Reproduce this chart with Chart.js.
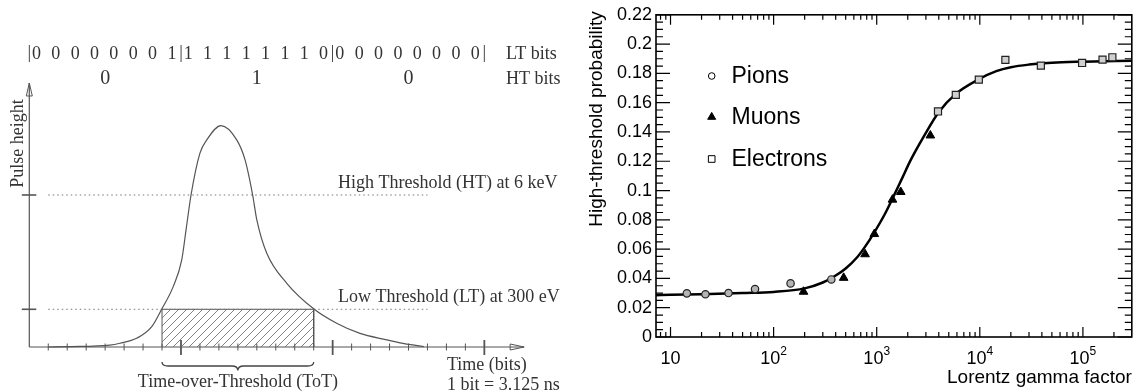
<!DOCTYPE html>
<html>
<head>
<meta charset="utf-8">
<script src="https://cdn.jsdelivr.net/npm/chart.js@4"></script>
<style>
html, body { margin: 0; padding: 0; background: #fff; }
#wrap { position: relative; width: 1138px; height: 392px; }
#pulseChart { position: absolute; left: 0; top: 0; }
#probChart { position: absolute; left: 575px; top: 0; }
</style>
</head>
<body>
<div id="wrap">
  <canvas id="pulseChart" width="575" height="392"></canvas>
  <canvas id="probChart" width="563" height="392"></canvas>
</div>
<script>
// ---------- left panel: pulse and thresholds ----------
var pulseTime   = [1.0, 2.1, 4.24, 4.78, 5.66, 6.46, 6.98, 7.59, 8.04, 8.28, 8.53, 9.0, 9.36, 10.11, 10.94, 11.38, 11.78, 12.0, 12.52, 13.58, 15.03, 16.21, 17.44, 18.85, 19.55, 20.81];
var pulseHeight = [0, 0.01, 0.05, 0.10, 0.23, 0.54, 1.0, 1.6, 2.31, 3.15, 4.03, 5.14, 5.49, 5.87, 5.49, 4.96, 4.03, 3.37, 2.49, 1.69, 1.0, 0.63, 0.36, 0.19, 0.11, 0.01];
var thresholdLevels = [1.0, 4.03];
var thresholdNames  = ['Low Threshold (LT) at 300 eV', 'High Threshold (HT) at 6 keV'];
var thresholdSpan   = [1.0, 21.0];
var totWindow = [7, 15];
var ltBits = [0,0,0,0,0,0,0,1, 1,1,1,1,1,1,1,0, 0,0,0,0,0,0,0,0];
var htBits = [0, 1, 0];
var bitsPerWord = 8;

// ---------- right panel: HT probability vs gamma ----------
var pionGamma = [14.4, 21.8, 36.5, 66, 146, 363];
var pionProb  = [0.0298, 0.0292, 0.0300, 0.0327, 0.0366, 0.0393];
var muonGamma = [195, 478, 771, 948, 1422, 1710, 3313];
var muonProb  = [0.0309, 0.0404, 0.0565, 0.0703, 0.0938, 0.0990, 0.1376];
var electronGamma = [3930, 5850, 9780, 17700, 39100, 98200, 155000, 193000];
var electronProb  = [0.1540, 0.1653, 0.1757, 0.1892, 0.1853, 0.1871, 0.1894, 0.1910];
var fitGamma = [7.2, 10, 20, 50, 100, 200, 300, 400, 500, 656, 760, 948, 1200, 1422, 1766, 2128, 2864, 3990, 5850, 9780, 14450, 20000, 30000, 50000, 100000, 298000];
var fitProb  = [0.0285, 0.0288, 0.0292, 0.0300, 0.0308, 0.0332, 0.0372, 0.0420, 0.0468, 0.0550, 0.0610, 0.0715, 0.0840, 0.0945, 0.1085, 0.1206, 0.1370, 0.1535, 0.1660, 0.1760, 0.1815, 0.1842, 0.1860, 0.1873, 0.1880, 0.1887];
var xTickExp = [1, 2, 3, 4, 5];

function zip(xs, ys) {
  return xs.map(function (x, i) { return { x: x, y: ys[i] }; });
}

var serif = '"Liberation Serif", "Times New Roman", serif';
var sans = '"Liberation Sans", Arial, sans-serif';

// hatch pattern for the ToT box
var pc = document.createElement('canvas');
pc.width = 8; pc.height = 8;
var pg = pc.getContext('2d');
pg.strokeStyle = '#666';
pg.lineWidth = 0.8;
pg.beginPath();
pg.moveTo(0, 8); pg.lineTo(8, 0);
pg.moveTo(-2, 2); pg.lineTo(2, -2);
pg.moveTo(6, 10); pg.lineTo(10, 6);
pg.stroke();
var hatch = pg.createPattern(pc, 'repeat');

var pulseDecor = {
  id: 'pulseDecor',
  beforeDatasetsDraw: function (chart) {
    var c = chart.ctx, xs = chart.scales.x, ys = chart.scales.y;
    var x0 = xs.getPixelForValue(0), y0 = ys.getPixelForValue(0);
    var yTop = ys.getPixelForValue(7.0), xEnd = xs.getPixelForValue(26.1);
    c.save();
    c.strokeStyle = '#555';
    c.lineWidth = 1.2;
    c.beginPath();
    c.moveTo(x0, y0); c.lineTo(x0, yTop);
    c.moveTo(x0, y0); c.lineTo(xEnd, y0);
    c.stroke();
    // arrow heads
    c.lineWidth = 1;
    c.beginPath();
    c.moveTo(x0 - 3, yTop + 13); c.lineTo(x0, yTop); c.lineTo(x0 + 3, yTop + 13); c.closePath();
    c.moveTo(xEnd - 14, y0 - 3); c.lineTo(xEnd, y0); c.lineTo(xEnd - 14, y0 + 3); c.closePath();
    c.stroke();
    // bit ticks on time axis
    for (var t = 1; t <= ltBits.length; t++) {
      var px = xs.getPixelForValue(t);
      var big = t % bitsPerWord === 0;
      c.lineWidth = big ? 1.8 : 1;
      c.beginPath();
      c.moveTo(px, y0 - (big ? 7 : 3.5));
      c.lineTo(px, y0 + (big ? 8 : 3.5));
      c.stroke();
    }
    // threshold ticks on height axis
    c.lineWidth = 1.6;
    thresholdLevels.forEach(function (lv) {
      var py = ys.getPixelForValue(lv);
      c.beginPath(); c.moveTo(x0 - 7.5, py); c.lineTo(x0 + 7, py); c.stroke();
    });
    c.restore();
  },
  afterDraw: function (chart) {
    var c = chart.ctx, xs = chart.scales.x, ys = chart.scales.y;
    c.save();
    c.fillStyle = '#333';
    c.textBaseline = 'middle';
    // LT bit row
    c.font = '18px ' + serif;
    c.textAlign = 'center';
    for (var w = 0; w <= ltBits.length / bitsPerWord; w++) {
      c.fillText('|', xs.getPixelForValue(w * bitsPerWord), 53);
    }
    ltBits.forEach(function (b, i) {
      var g = Math.floor(i / bitsPerWord), k = i % bitsPerWord;
      c.fillText(String(b), xs.getPixelForValue(g * bitsPerWord + 0.38 + k * 1.02), 54);
    });
    c.textAlign = 'left';
    c.fillText('LT bits', 506, 54);
    // HT bit row
    c.textAlign = 'center';
    c.font = '20px ' + serif;
    htBits.forEach(function (b, g) {
      c.fillText(String(b), xs.getPixelForValue(g * bitsPerWord + bitsPerWord / 2), 79);
    });
    c.font = '18px ' + serif;
    c.textAlign = 'left';
    c.fillText('HT bits', 506, 79);
    // threshold labels
    thresholdLevels.forEach(function (lv, i) {
      c.fillText(thresholdNames[i], 338, ys.getPixelForValue(lv) - 12);
    });
    // time axis labels
    c.fillText('Time (bits)', 447, 365);
    c.fillText('1 bit = 3.125 ns', 447, 385);
    // ToT brace and label
    var xa = xs.getPixelForValue(totWindow[0]), xb = xs.getPixelForValue(totWindow[1]);
    var xm = (xa + xb) / 2, yb = 362;
    c.strokeStyle = '#444';
    c.lineWidth = 1.3;
    c.beginPath();
    c.moveTo(xa, yb);
    c.quadraticCurveTo(xa, yb + 4, xa + 6, yb + 4);
    c.lineTo(xm - 6, yb + 4);
    c.quadraticCurveTo(xm, yb + 4, xm, yb + 8.5);
    c.quadraticCurveTo(xm, yb + 4, xm + 6, yb + 4);
    c.lineTo(xb - 6, yb + 4);
    c.quadraticCurveTo(xb, yb + 4, xb, yb);
    c.stroke();
    c.textAlign = 'center';
    c.fillText('Time-over-Threshold (ToT)', xm, 382);
    // height axis label
    c.translate(18, 143.5);
    c.rotate(-Math.PI / 2);
    c.fillText('Pulse height', 0, 0);
    c.restore();
  }
};

new Chart(document.getElementById('pulseChart'), {
  type: 'scatter',
  data: {
    datasets: [
      { data: zip(pulseTime, pulseHeight), showLine: true, borderColor: '#555', borderWidth: 1.2,
        pointRadius: 0, cubicInterpolationMode: 'monotone', clip: false },
      { data: [{ x: thresholdSpan[0], y: thresholdLevels[0] }, { x: thresholdSpan[1], y: thresholdLevels[0] }],
        showLine: true, borderColor: '#777', borderWidth: 1, borderDash: [1.5, 3], pointRadius: 0 },
      { data: [{ x: thresholdSpan[0], y: thresholdLevels[1] }, { x: thresholdSpan[1], y: thresholdLevels[1] }],
        showLine: true, borderColor: '#777', borderWidth: 1, borderDash: [1.5, 3], pointRadius: 0 },
      { data: [{ x: totWindow[0], y: 0 }, { x: totWindow[0], y: thresholdLevels[0] },
               { x: totWindow[1], y: thresholdLevels[0] }, { x: totWindow[1], y: 0 }],
        showLine: true, fill: 'origin', backgroundColor: hatch, borderColor: '#555', borderWidth: 1,
        pointRadius: 0, clip: false }
    ]
  },
  options: {
    responsive: false,
    animation: false,
    layout: { padding: { left: 29.3, right: 575 - 29.3 - 28 * 18.96, top: 0, bottom: 45 } },
    plugins: { legend: { display: false }, tooltip: { enabled: false } },
    scales: {
      x: { display: false, min: 0, max: 28 },
      y: { display: false, min: 0, max: 9.2 }
    }
  },
  plugins: [pulseDecor]
});

// ---------- right panel ----------
var rootFrame = {
  id: 'rootFrame',
  afterDraw: function (chart) {
    var c = chart.ctx, a = chart.chartArea, xs = chart.scales.x, ys = chart.scales.y;
    c.save();
    c.strokeStyle = '#000';
    c.lineWidth = 1.2;
    c.beginPath();
    for (var i = 0; i <= 44; i++) {
      var py = ys.getPixelForValue(i * 0.005), len = i % 4 === 0 ? 14 : 7;
      c.moveTo(a.left, py); c.lineTo(a.left + len, py);
      c.moveTo(a.right, py); c.lineTo(a.right - len, py);
    }
    for (var d = 0; d <= 5; d++) {
      for (var m = 1; m <= 9; m++) {
        var g = m * Math.pow(10, d);
        if (g < xs.min || g > xs.max) continue;
        var px = xs.getPixelForValue(g), tl = m === 1 ? 10 : 5;
        c.moveTo(px, a.bottom); c.lineTo(px, a.bottom - tl);
        c.moveTo(px, a.top); c.lineTo(px, a.top + tl);
      }
    }
    c.stroke();
    c.lineWidth = 1.6;
    c.strokeRect(a.left, a.top, a.right - a.left, a.bottom - a.top);

    // x tick labels with exponents
    c.fillStyle = '#000';
    c.textBaseline = 'alphabetic';
    c.textAlign = 'left';
    xTickExp.forEach(function (e) {
      var px = xs.getPixelForValue(Math.pow(10, e));
      c.font = '18px ' + sans;
      var w1 = c.measureText('10').width;
      c.font = '12px ' + sans;
      var w2 = e > 1 ? c.measureText(String(e)).width : 0;
      var x0 = px - (w1 + w2) / 2;
      c.font = '18px ' + sans;
      c.fillText('10', x0, 363.5);
      if (e > 1) {
        c.font = '12px ' + sans;
        c.fillText(String(e), x0 + w1, 355);
      }
    });

    // axis titles
    c.font = '19px ' + sans;
    c.textBaseline = 'middle';
    c.textAlign = 'right';
    c.fillText('Lorentz gamma factor', a.right, 378);
    c.save();
    c.translate(22, 119);
    c.rotate(-Math.PI / 2);
    c.textAlign = 'center';
    c.fillText('High-threshold probability', 0, 0);
    c.restore();

    // legend inside the frame
    var rows = [76, 117, 159];
    var marks = [
      { pointStyle: 'circle', radius: 3.3, fill: '#fff' },
      { pointStyle: 'triangle', radius: 4.6, fill: '#000' },
      { pointStyle: 'rect', radius: 4.7, fill: '#fff' }
    ];
    c.font = '23px ' + sans;
    c.textAlign = 'left';
    for (var j = 0; j < 3; j++) {
      c.fillStyle = marks[j].fill;
      c.strokeStyle = '#000';
      c.lineWidth = 1;
      Chart.helpers.drawPoint(c, { pointStyle: marks[j].pointStyle, radius: marks[j].radius, rotation: 0, borderWidth: 1 }, 136.7, rows[j]);
      c.fillStyle = '#000';
      c.fillText(chart.data.datasets[j].label, 156.5, rows[j] + 1);
    }
    c.restore();
  }
};

new Chart(document.getElementById('probChart'), {
  type: 'scatter',
  data: {
    datasets: [
      { label: 'Pions', data: zip(pionGamma, pionProb), pointStyle: 'circle', pointRadius: 3.7,
        backgroundColor: '#b4b4b4', borderColor: '#222', borderWidth: 1.2 },
      { label: 'Muons', data: zip(muonGamma, muonProb), pointStyle: 'triangle', pointRadius: 5,
        backgroundColor: '#000', borderColor: '#000', borderWidth: 1 },
      { label: 'Electrons', data: zip(electronGamma, electronProb), pointStyle: 'rect', pointRadius: 5,
        backgroundColor: '#d0d0d0', borderColor: '#222', borderWidth: 1.2 },
      { label: 'Fit', data: zip(fitGamma, fitProb), showLine: true, borderColor: '#000', borderWidth: 2.5,
        pointRadius: 0, cubicInterpolationMode: 'monotone' }
    ]
  },
  options: {
    responsive: false,
    animation: false,
    layout: { padding: { left: 0, right: 1.3, top: 14, bottom: 0 } },
    plugins: { legend: { display: false }, tooltip: { enabled: false } },
    scales: {
      x: {
        type: 'logarithmic', min: 7.23, max: 2.98e5,
        grid: { display: false }, border: { display: false }, ticks: { display: false },
        afterFit: function (s) { s.height = 55; }
      },
      y: {
        min: 0, max: 0.22,
        grid: { display: false, drawTicks: false }, border: { display: false },
        ticks: {
          stepSize: 0.02, autoSkip: false, padding: 4, color: '#000',
          font: { family: sans, size: 18 },
          callback: function (v) { return String(+v.toFixed(2)); }
        },
        afterFit: function (s) { s.width = 81; }
      }
    }
  },
  plugins: [rootFrame]
});
</script>
</body>
</html>
